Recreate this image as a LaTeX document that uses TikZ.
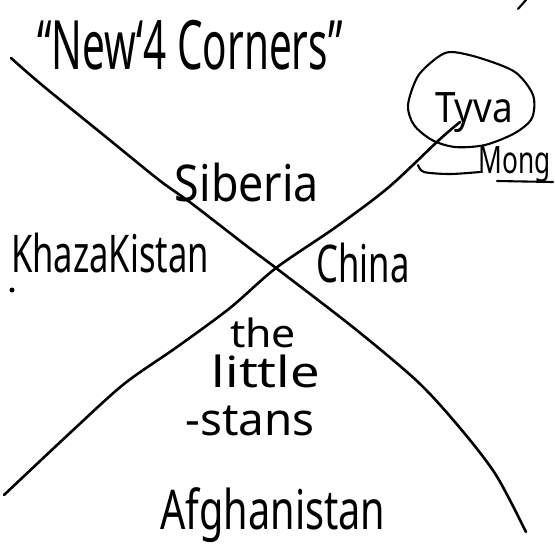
\documentclass[tikz,border=0pt]{standalone}
\usepackage{fontspec}
\setmainfont{Noto Sans}
\usepackage{graphicx}
\newcommand{\hwbox}[3]{\resizebox*{#1}{#2}{#3}}
\tikzset{
  pen/.style={line width=2.6pt, line cap=round, line join=round, black},
  thinpen/.style={line width=2.1pt, line cap=round, line join=round, black},
  hand/.style={inner sep=0pt, outer sep=0pt, anchor=center, text=black},
}
\begin{document}
\begin{tikzpicture}[x=1pt,y=-1pt]
\clip (0,0) rectangle (555,550);
\fill[white] (0,0) rectangle (555,550);

% labels
\node[hand] (title) at (190,45) {\hwbox{305pt}{50pt}{“New‘4 Corners”}};
\node[hand] (tyva) at (474,113) {\hwbox{78pt}{40pt}{Tyva}};
\node[hand] (mong) at (515,165) {\hwbox{72pt}{36pt}{Mong}};
\node[hand] (siberia) at (247,182) {\hwbox{144pt}{39pt}{Siberia}};
\node[hand] (khaz) at (110,253) {\hwbox{198pt}{40pt}{KhazaKistan}};
\node[hand] (china) at (363,263) {\hwbox{93pt}{40pt}{China}};
\node[hand] (the) at (263,333) {\hwbox{66pt}{30pt}{the}};
\node[hand] (little) at (266,371) {\hwbox{108pt}{33pt}{little}};
\node[hand] (stans) at (250,421) {\hwbox{129pt}{30pt}{-stans}};
\node[hand] (afgh) at (273,515) {\hwbox{225pt}{55pt}{Afghanistan}};

% crossing lines
\coordinate (cross) at (276,268);
\coordinate (nw) at (11,58);
\coordinate (se) at (526,532);
\coordinate (sw) at (4,495);
\coordinate (ne) at (460,122);

\draw[pen] plot[smooth] coordinates {(nw) (42,85) (106,137) (159,180) (191,203) (248,247) (cross) (354,328) (418,382) (460,428) (496,475) (se)};
\draw[pen] plot[smooth] coordinates {(sw) (71,432) (124,384) (177,347) (230,308) (cross) (336,227) (389,187) (439,140) (ne)};

% circle round Tyva
\draw[thinpen] plot[smooth cycle] coordinates {(408,105) (418,76) (438,57) (452,52) (480,58) (515,72) (533,95) (532,118) (515,133) (485,145) (455,147) (432,140) (414,125)};

% underline strokes near Mong
\draw[thinpen] plot[smooth] coordinates {(418,165) (424,172) (450,174) (480,172)};
\draw[thinpen] (497,181) -- (553,182);

% stray marks
\draw[thinpen] (518,9) -- (526,0);
\fill (12,290) circle (2.5);
\end{tikzpicture}
\end{document}
